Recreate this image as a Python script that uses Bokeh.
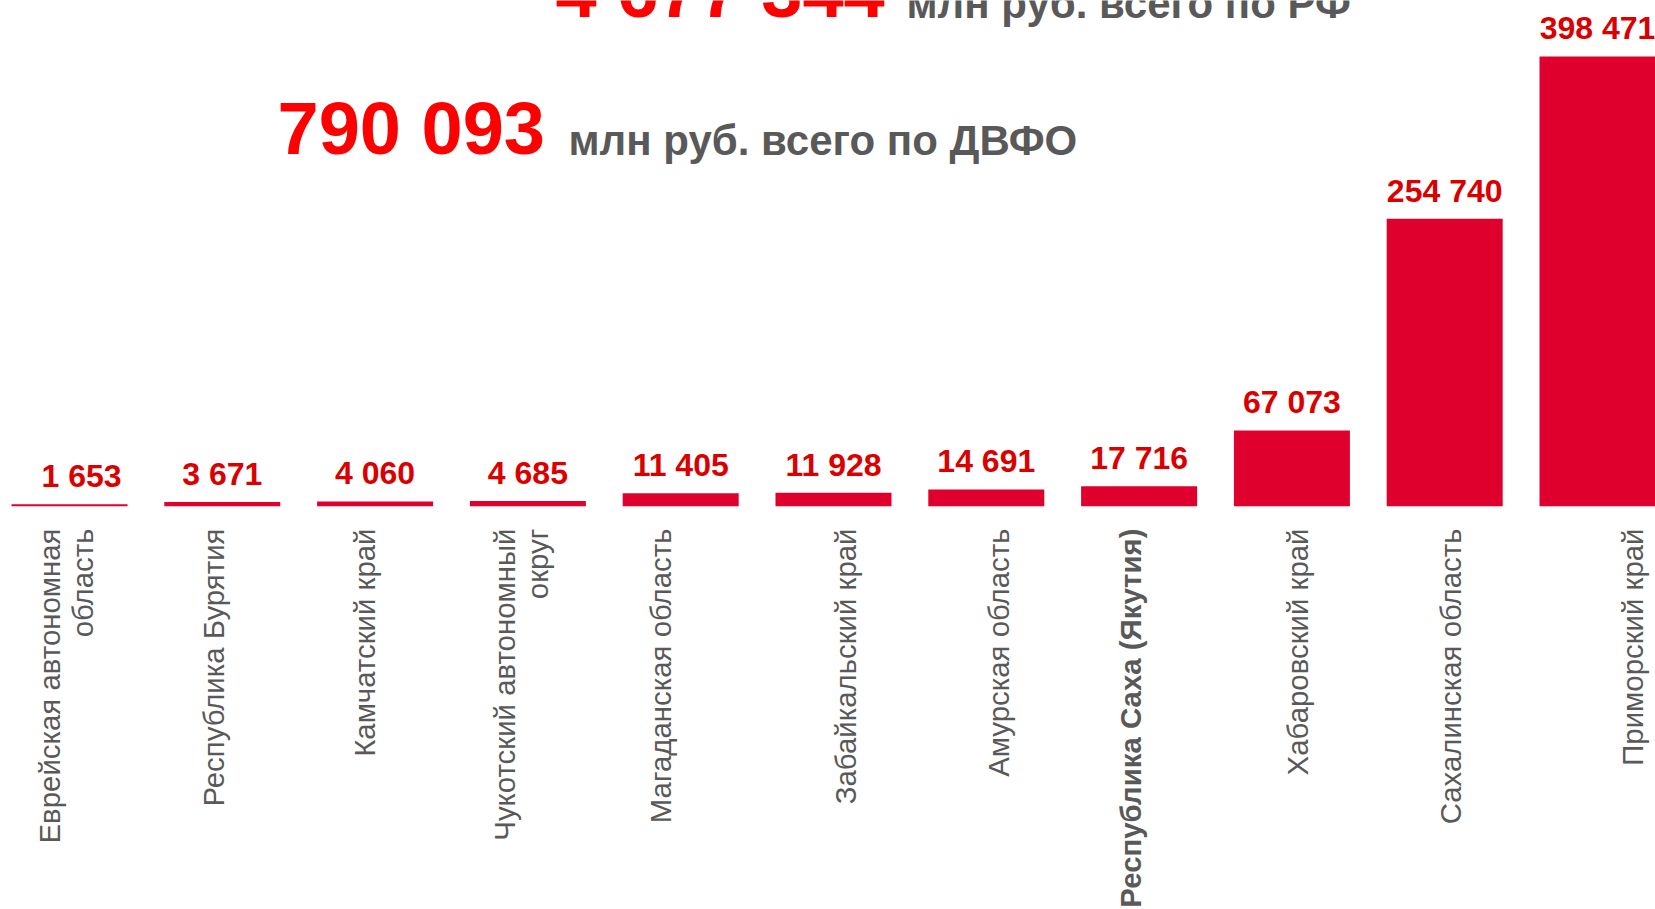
from bokeh.plotting import figure, ColumnDataSource
from bokeh.models import Range1d
from bokeh.core.properties import value
from bokeh.embed import file_html
from bokeh.resources import INLINE
import math

# ---- data ----
regions = [
    "Еврейская автономная\nобласть",
    "Республика Бурятия",
    "Камчатский край",
    "Чукотский автономный\nокруг",
    "Магаданская область",
    "Забайкальский край",
    "Амурская область",
    "Республика Саха (Якутия)",
    "Хабаровский край",
    "Сахалинская область",
    "Приморский край",
]
amounts = [1653, 3671, 4060, 4685, 11405, 11928, 14691, 17716, 67073, 254740, 398471]
amount_labels = ["1 653", "3 671", "4 060", "4 685", "11 405", "11 928", "14 691",
                 "17 716", "67 073", "254 740", "398 471"]
highlight = [False, False, False, False, False, False, False, True, False, False, False]
total_rf_label = "4 677 344"
total_rf_text = "млн руб. всего по РФ"
total_dfo_label = "790 093"
total_dfo_text = "млн руб. всего по ДВФО"

# ---- layout constants (pixels) ----
W, H = 1655, 909
X0, DX = 69.0, 152.8        # first bar centre, slot width
Y0, KY = 505.7, 0.0011283   # baseline, px per unit
BASE_FIX = 0.38             # alphabetic baseline correction (fraction of font size)

# per-label horizontal nudges in px (layout only)
cat_nudge = [-4, -9, -11, -7, -20, 12, 12, -9, 6, 6, 35]
val_nudge = [12, 0, 0, 0, 0, 0, 0, 0, 0, 0, 0]

def px_x(px):
    return (px - X0) / DX

def px_y(py):
    return (Y0 - py) / KY

def base_y(py, size):
    return px_y(py - BASE_FIX * size)

BAR = "#E0002D"
LBL = "#DB0000"
GRAY = "#595959"
FONT = "Liberation Sans"

p = figure(width=W, height=H, output_backend="svg", toolbar_location=None,
           x_range=Range1d(px_x(0), px_x(W)), y_range=Range1d(px_y(H), px_y(0)),
           x_axis_location=None, y_axis_location=None, min_border=0,
           outline_line_color=None, background_fill_color="white",
           border_fill_color="white")
p.grid.visible = False

idx = list(range(len(regions)))
src = ColumnDataSource(dict(
    x=idx, top=amounts, lab=amount_labels,
    lx=[i + n / DX for i, n in zip(idx, val_nudge)],
    ly=[a + (16 + BASE_FIX * 32) / KY for a in amounts],
    cat=regions,
    cx=[i + n / DX for i, n in zip(idx, cat_nudge)],
    cy=[px_y(528)] * len(regions),
    style=["bold" if h else "normal" for h in highlight],
))

p.vbar(x="x", top="top", bottom=0, width=116 / DX, source=src,
       fill_color=BAR, line_color=None)

p.text(x="lx", y="ly", text="lab", source=src, text_align="center",
       text_baseline="alphabetic", text_font=value(FONT), text_font_style="bold",
       text_font_size="32px", text_color=LBL)

p.text(x="cx", y="cy", text="cat", source=src, angle=math.pi / 2,
       text_align="right", text_baseline="middle", text_font=value(FONT),
       text_font_style="style", text_font_size="29.4px", text_color=GRAY,
       text_line_height=1.0)

# headers
def header(px, py, txt, size, color):
    p.text(x=[px_x(px)], y=[base_y(py, size)], text=[txt], text_align="left",
           text_baseline="alphabetic", text_font=value(FONT), text_font_style="bold",
           text_font_size=f"{size}px", text_color=color)

header(555, 19, total_rf_label, 74, "#FF0000")
header(906, 19, total_rf_text, 42, GRAY)
header(277, 156, total_dfo_label, 74, "#FF0000")
header(568, 156, total_dfo_text, 42, GRAY)

open("out.html", "w").write(file_html(p, INLINE))
